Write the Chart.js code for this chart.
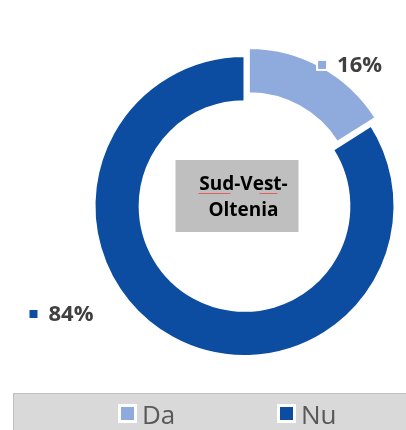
<!DOCTYPE html>
<html>
<head>
<meta charset="utf-8">
<script src="https://cdn.jsdelivr.net/npm/chart.js@4/dist/chart.umd.min.js"></script>
<style>
  html, body { margin: 0; padding: 0; background: #ffffff; }
  #wrap { position: relative; width: 406px; height: 430px; }
</style>
</head>
<body>
<div id="wrap"><canvas id="c" width="406" height="430"></canvas></div>
<script>
// Share of answers in the region
const categories = ['Da', 'Nu'];
const shares = [16, 84];
const sliceColors = ['#8FAADC', '#0C4DA2'];
const centerTitle = ['Sud-Vest-', 'Oltenia'];
// how far each slice is pulled out of the ring, in pixels
const explode = [9, 0];

// Value labels next to the ring, with a small coloured marker
const valueLabels = {
  id: 'valueLabels',
  afterDatasetsDraw(chart) {
    const ctx = chart.ctx;
    const arcs = chart.getDatasetMeta(0).data;
    ctx.save();
    ctx.font = 'bold 22px "Open Sans"';
    ctx.textBaseline = 'middle';
    arcs.forEach((arc, i) => {
      const p = arc.getProps(['x', 'y', 'startAngle', 'endAngle', 'outerRadius']);
      const mid = (p.startAngle + p.endAngle) / 2;
      let mx, my;
      if (i === 0) {
        const r = p.outerRadius + 11;
        mx = p.x + Math.cos(mid) * r;
        my = p.y + Math.sin(mid) * r;
      } else {
        mx = p.x - p.outerRadius - 61;
        my = p.y + 108;
      }
      ctx.fillStyle = '#ffffff';
      ctx.fillRect(mx - 6, my - 6, 12, 12);
      ctx.fillStyle = sliceColors[i];
      ctx.fillRect(mx - 4, my - 4, 8, 8);
      ctx.fillStyle = '#404040';
      ctx.textAlign = 'left';
      ctx.fillText(shares[i] + '%', mx + 15, my + 1);
    });
    ctx.restore();
  }
};

// Grey title box in the middle of the ring
const centerBox = {
  id: 'centerBox',
  afterDatasetsDraw(chart) {
    const ctx = chart.ctx;
    const arc = chart.getDatasetMeta(0).data[1];
    const cx = arc.x, cy = arc.y;
    ctx.save();
    ctx.fillStyle = '#BFBFBF';
    ctx.fillRect(cx - 69, cy - 46, 123, 72);
    ctx.font = 'bold 19px "Open Sans"';
    ctx.fillStyle = '#000000';
    ctx.textAlign = 'center';
    ctx.textBaseline = 'alphabetic';
    ctx.fillText(centerTitle[0], cx - 1, cy - 16);
    ctx.fillText(centerTitle[1], cx - 1, cy + 10);
    // spell-check underline marks
    ctx.strokeStyle = '#E06060';
    ctx.lineWidth = 1;
    ctx.beginPath();
    ctx.moveTo(cx - 46, cy - 12.5); ctx.lineTo(cx - 14, cy - 12.5);
    ctx.moveTo(cx + 15, cy - 12.5); ctx.lineTo(cx + 33, cy - 12.5);
    ctx.stroke();
    ctx.restore();
  }
};

// Legend band along the bottom
const bottomLegend = {
  id: 'bottomLegend',
  afterDraw(chart) {
    const ctx = chart.ctx;
    ctx.save();
    ctx.fillStyle = '#D9D9D9';
    ctx.fillRect(13, 393, 393, 37);
    ctx.strokeStyle = '#BFBFBF';
    ctx.lineWidth = 1;
    ctx.beginPath();
    ctx.moveTo(13.5, 430); ctx.lineTo(13.5, 393.5); ctx.lineTo(406, 393.5);
    ctx.stroke();
    const xs = [118, 277];
    ctx.font = '26px "Open Sans"';
    ctx.textBaseline = 'alphabetic';
    ctx.textAlign = 'left';
    categories.forEach((name, i) => {
      const x = xs[i];
      ctx.fillStyle = '#ffffff';
      ctx.fillRect(x, 404, 19, 19);
      ctx.fillStyle = sliceColors[i];
      ctx.fillRect(x + 3, 407, 13, 13);
      ctx.fillStyle = '#595959';
      ctx.fillText(name, x + 24, 424);
    });
    ctx.restore();
  }
};

const chart = new Chart(document.getElementById('c'), {
  type: 'doughnut',
  data: {
    labels: categories,
    datasets: [{
      data: shares,
      backgroundColor: sliceColors,
      borderColor: '#ffffff',
      borderWidth: 2,
      hoverOffset: 0
    }]
  },
  options: {
    responsive: false,
    animation: false,
    radius: 150,
    cutout: 108,
    layout: { padding: { left: 89, top: 50, right: 6, bottom: 68 } },
    plugins: {
      legend: { display: false },
      tooltip: { enabled: false }
    }
  },
  plugins: [valueLabels, centerBox, bottomLegend]
});

// Pull exploded slices straight out along their mid-angle, keeping their radius
chart.getDatasetMeta(0).data.forEach((arc, i) => {
  if (!explode[i]) return;
  const baseDraw = arc.draw;
  arc.draw = function (ctx, area) {
    const mid = (this.startAngle + this.endAngle) / 2;
    ctx.save();
    ctx.translate(Math.cos(mid) * explode[i], Math.sin(mid) * explode[i]);
    baseDraw.call(this, ctx, area);
    ctx.restore();
  };
});
chart.draw();
</script>
</body>
</html>
